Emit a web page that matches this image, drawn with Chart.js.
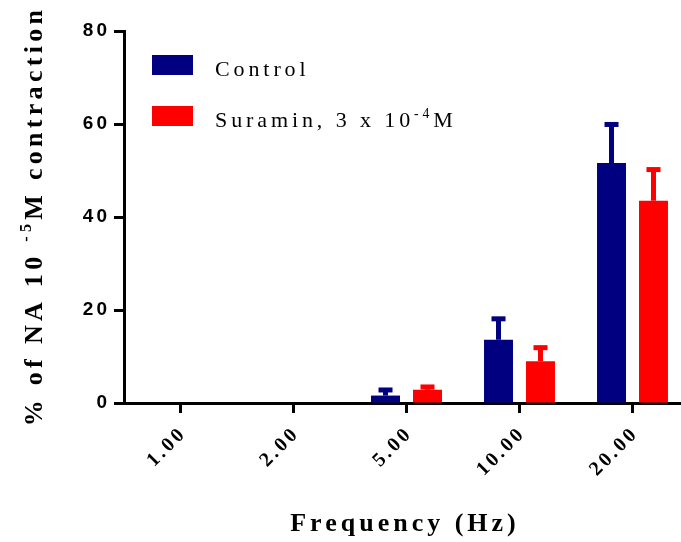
<!DOCTYPE html>
<html>
<head>
<meta charset="utf-8">
<script src="https://cdn.jsdelivr.net/npm/chart.js@4"></script>
<style>
  html, body { margin: 0; padding: 0; background: #fff; overflow: hidden; }
  #wrap { width: 681px; height: 542px; overflow: hidden; }
  canvas { display: block; }
</style>
</head>
<body>
<div id="wrap"><canvas id="chart" width="700" height="542"></canvas></div>
<script>
const categories = ["1.00", "2.00", "5.00", "10.00", "20.00"];
const controlMean = [0, 0, 1.6, 13.6, 51.6];
const controlSem = [0, 0, 1.2, 4.5, 8.3];
const suraminMean = [0, 0, 2.85, 9.0, 43.5];
const suraminSem = [0, 0, 0.6, 2.9, 6.7];
const yTicks = [0, 20, 40, 60, 80];

const navy = "#000080";
const red = "#ff0000";
const serif = "'Liberation Serif', 'Times New Roman', serif";
const sans = "'Liberation Sans', Arial, sans-serif";

// text made of pieces, superscript pieces are smaller and raised
function drawPieces(ctx, pieces, x, y, size, weight, spacing, align) {
    ctx.save();
    ctx.letterSpacing = spacing + "px";
    ctx.textAlign = "left";
    ctx.textBaseline = "alphabetic";
    ctx.fillStyle = "#000";
    let total = 0;
    const widths = pieces.map(p => {
        ctx.font = weight + " " + (p.sup ? size * 0.62 : size) + "px " + serif;
        const w = ctx.measureText(p.text).width;
        total += w;
        return w;
    });
    let cx = align === "center" ? x - total / 2 : x;
    pieces.forEach((p, i) => {
        ctx.font = weight + " " + (p.sup ? size * 0.62 : size) + "px " + serif;
        ctx.fillText(p.text, cx, p.sup ? y - size * 0.42 : y);
        cx += widths[i];
    });
    ctx.restore();
}

const errorBars = {
    id: "errorBars",
    afterDatasetsDraw(chart) {
        const ctx = chart.ctx;
        const yScale = chart.scales.y;
        chart.data.datasets.forEach((ds, i) => {
            const meta = chart.getDatasetMeta(i);
            meta.data.forEach((bar, j) => {
                const err = ds.sem[j];
                if (!err) return;
                const top = yScale.getPixelForValue(ds.data[j] + err);
                ctx.save();
                ctx.fillStyle = ds.backgroundColor;
                ctx.fillRect(bar.x - 2.5, top, 5, bar.y - top);
                ctx.fillRect(bar.x - 7, top - 2.5, 14, 5);
                ctx.restore();
            });
        });
    }
};

const tickSpacing = {
    id: "tickSpacing",
    beforeDraw(chart) { chart.ctx.letterSpacing = "3px"; },
    afterDraw(chart) { chart.ctx.letterSpacing = "0px"; }
};

const labels = {
    id: "labels",
    afterDraw(chart) {
        const ctx = chart.ctx;
        ctx.save();
        ctx.letterSpacing = "0px";

        // legend
        const items = [
            { color: navy, y: 55, pieces: [{ text: "Control" }] },
            { color: red, y: 106, pieces: [{ text: "Suramin, 3 x 10" }, { text: "-4", sup: true }, { text: "M" }] }
        ];
        items.forEach(it => {
            ctx.fillStyle = it.color;
            ctx.fillRect(152, it.y, 41, 20);
            drawPieces(ctx, it.pieces, 215, it.y + 21, 22, "normal", 3.9, "left");
        });

        // x title
        drawPieces(ctx, [{ text: "Frequency (Hz)" }], 405, 531, 26, "bold", 4, "center");

        // y title
        ctx.save();
        ctx.translate(42, 216);
        ctx.rotate(-Math.PI / 2);
        drawPieces(ctx, [{ text: "% of NA 10 " }, { text: "-5", sup: true }, { text: "M contraction" }], 0, 0, 26, "bold", 4.3, "center");
        ctx.restore();

        ctx.restore();
    }
};

new Chart(document.getElementById("chart"), {
    type: "bar",
    data: {
        labels: categories,
        datasets: [
            { label: "Control", data: controlMean, sem: controlSem, backgroundColor: navy },
            { label: "Suramin, 3 x 10-4M", data: suraminMean, sem: suraminSem, backgroundColor: red }
        ]
    },
    options: {
        responsive: false,
        animation: false,
        layout: { padding: { top: 31, right: 11, left: 0, bottom: 0 } },
        categoryPercentage: 0.743,
        barPercentage: 0.69,
        plugins: { legend: { display: false }, tooltip: { enabled: false } },
        scales: {
            x: {
                offset: true,
                grid: { offset: false, drawOnChartArea: false, tickLength: 10, tickWidth: 3, tickColor: "#000" },
                border: { color: "#000", width: 3 },
                ticks: { color: "#000", font: { family: serif, size: 20, weight: "bold" }, minRotation: 45, maxRotation: 45, padding: 9, labelOffset: 3 },
                afterFit(scale) { scale.height = 139; }
            },
            y: {
                min: 0,
                max: 80,
                afterBuildTicks(scale) { scale.ticks = yTicks.map(v => ({ value: v })); },
                grid: { drawOnChartArea: false, tickLength: 10, tickWidth: 3, tickColor: "#000" },
                border: { color: "#000", width: 3 },
                ticks: { color: "#000", font: { family: sans, size: 19, weight: "bold" }, padding: 4 },
                afterFit(scale) { scale.width = 124; }
            }
        }
    },
    plugins: [errorBars, tickSpacing, labels]
});
</script>
</body>
</html>
